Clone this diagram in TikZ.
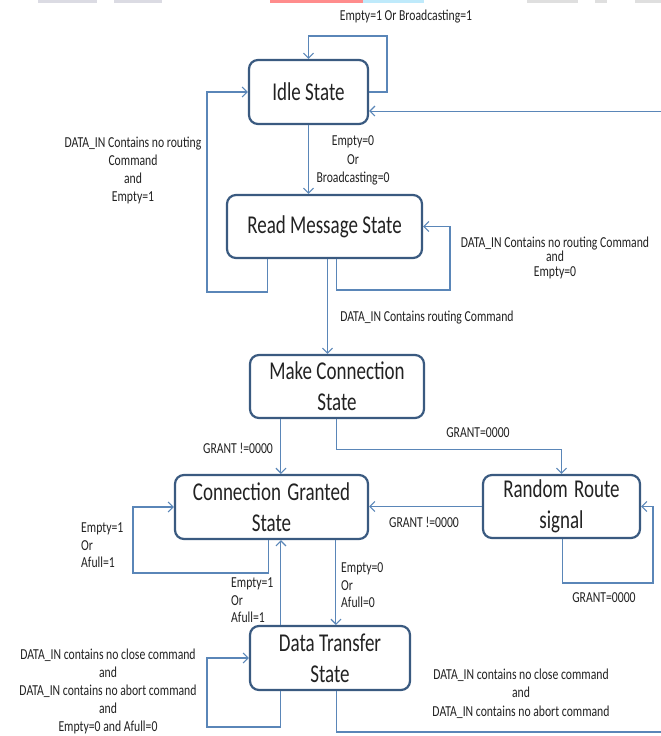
\documentclass[tikz,border=0pt]{standalone}
\usepackage{fontspec}
\setmainfont{Carlito}
\usetikzlibrary{arrows.meta,calc}
\definecolor{boxblue}{HTML}{3A5A80}
\definecolor{linkblue}{HTML}{5A86B8}
\definecolor{inkgray}{HTML}{222222}
% text in this chart is drawn a little taller than its width
\newcommand\tallbig[1]{\scalebox{1}[1.35]{#1}}
\newcommand\tallsm[1]{\scalebox{1}[1.3]{#1}}

\begin{document}
\begin{tikzpicture}[x=1pt,y=-1pt,
  statebox/.style={draw=boxblue, line width=2.2pt, rounded corners=9pt, fill=white,
    inner sep=0pt, align=center, font=\fontsize{19}{31}\selectfont, text=inkgray},
  conn/.style={draw=linkblue, line width=1.1pt, -{Straight Barb[length=5pt,width=10pt]}},
  lbl/.style={inner sep=0pt, font=\fontsize{11.7}{18.3}\selectfont, text=inkgray, align=center},
  lbll/.style={lbl, align=left, anchor=west, font=\fontsize{11.7}{17.5}\selectfont},
]
\useasboundingbox (0,0) rectangle (661,736);
\fill[white] (0,0) rectangle (661,736);
\clip (0,0) rectangle (661,736);

% faint strip along the top edge
\fill[blue!12!gray!25] (38,0) rectangle (97,2.5);
\fill[blue!12!gray!25] (114,0) rectangle (162,2.5);
\fill[red!45] (270,0) rectangle (363,2.5);
\fill[cyan!25] (363,0) rectangle (424,2.5);
\fill[gray!25] (527,0) rectangle (578,2.5);
\fill[gray!25] (595,0) rectangle (607,2.5);
\fill[gray!25] (635,0) rectangle (661,2.5);

% states
\node[statebox, minimum width=119pt, minimum height=64pt] (idle) at (308.5,92) {\tallbig{Idle State}};
\node[statebox, minimum width=195pt, minimum height=63pt] (read) at (324.5,226.5) {\tallbig{Read Message State}};
\node[statebox, minimum width=174pt, minimum height=63pt] (make) at (337,386.5) {\tallbig{Make Connection}\\\tallbig{State}};
\node[statebox, minimum width=193pt, minimum height=64pt] (cg) at (271.5,507) {\tallbig{Connection\hspace{2pt} Granted}\\\tallbig{State}};
\node[statebox, minimum width=157pt, minimum height=63pt] (rr) at (561.5,506.5) {\tallbig{Random\hspace{2pt} Route}\\\tallbig{signal}};
\node[statebox, minimum width=160pt, minimum height=64pt] (dt) at (330,658) {\tallbig{Data Transfer}\\\tallbig{State}};

% transitions
\draw[conn] (idle.east) -| (387,36) -| (idle.north);
\draw[conn] (idle.south) -- (idle.south |- read.north);
\draw[conn] ($(read.south west)+(42,0)$) |- (207,292) |- (idle.west);
\draw[conn] ($(read.south west)+(111,0)$) |- (450,290) |- (read.east);
\coordinate (rm) at ($(read.south)+(3,0)$);
\draw[conn] (rm) -- (rm |- make.north);
\coordinate (mc) at ($(make.south west)+(32,0)$);
\draw[conn] (mc) -- (mc |- cg.north);
\draw[conn] ($(make.south west)+(88,0)$) -- ++(0,30) -| (rr.north);
\draw[conn] (rr.west) -- (rr.west -| cg.east);
\draw[conn] ($(rr.south)+(1,0)$) |- (653,583) |- (rr.east);
\draw[conn] ($(cg.south west)+(95,0)$) |- (133,573) |- (cg.west);
\coordinate (dc) at ($(cg.south west)+(107,0)$);
\draw[conn] (dc |- dt.north) -- (dc);
\coordinate (cd) at ($(cg.south west)+(162,0)$);
\draw[conn] (cd) -- (cd |- dt.north);
\draw[conn] ($(dt.south west)+(32,0)$) |- (207,727) |- (dt.west);
\coordinate (offpage) at (676,732);
\draw[conn] ($(dt.south west)+(88,0)$) |- (offpage) |- ($(idle.south east)+(0,-14)$);

% transition labels
\node[lbl] (l1) at (406,17) {\tallsm{Empty=1 Or Broadcasting=1}};
\node[lbl] (l2) at (353,160.5) {\tallsm{Empty=0}\\\tallsm{Or}\\\tallsm{Broadcasting=0}};
\node[lbl] (l3) at (133,170.5) {\tallsm{DATA\_IN Contains no routing}\\\tallsm{Command}\\\tallsm{and}\\\tallsm{Empty=1}};
\node[lbl, font=\fontsize{11.7}{14.5}\selectfont] (l4) at (555,257.5) {\tallsm{DATA\_IN Contains no routing Command}\\\tallsm{and}\\\tallsm{Empty=0}};
\node[lbl] (l5) at (427,318) {\tallsm{DATA\_IN Contains routing Command}};
\node[lbl] (l6) at (238,448) {\tallsm{GRANT !=0000}};
\node[lbl] (l7) at (478,433) {\tallsm{GRANT=0000}};
\node[lbl] (l8) at (424,522) {\tallsm{GRANT !=0000}};
\node[lbl] (l9) at (604,598) {\tallsm{GRANT=0000}};
\node[lbll] (l10) at (81,545.5) {\tallsm{Empty=1}\\\tallsm{Or}\\\tallsm{Afull=1}};
\node[lbll] (l11) at (231,600.5) {\tallsm{Empty=1}\\\tallsm{Or}\\\tallsm{Afull=1}};
\node[lbll] (l12) at (341,585.5) {\tallsm{Empty=0}\\\tallsm{Or}\\\tallsm{Afull=0}};
\node[lbl, font=\fontsize{11.7}{18}\selectfont] (l13) at (108,691.5) {\tallsm{DATA\_IN contains no close command}\\\tallsm{and}\\\tallsm{DATA\_IN contains no abort command}\\\tallsm{and}\\\tallsm{Empty=0 and Afull=0}};
\node[lbl] (l14) at (521,693.5) {\tallsm{DATA\_IN contains no close command}\\\tallsm{and}\\\tallsm{DATA\_IN contains no abort command}};
\end{tikzpicture}
\end{document}
